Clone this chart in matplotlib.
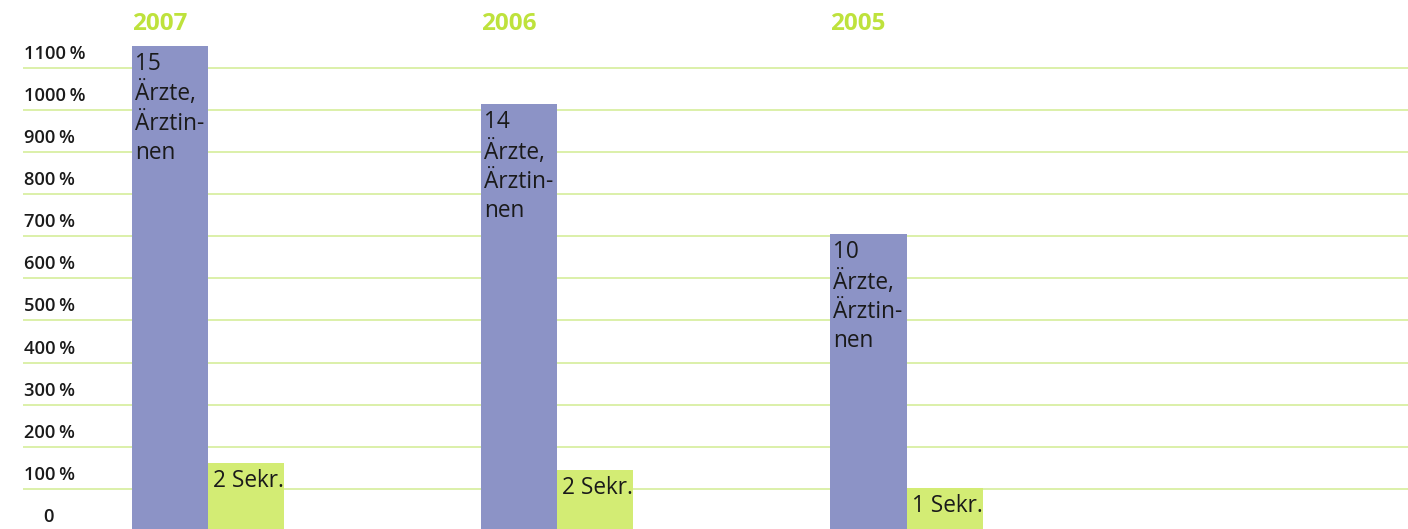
import matplotlib
matplotlib.use("Agg")
import matplotlib.pyplot as plt
import matplotlib.transforms as mtransforms
import numpy as np

years = ["2007", "2006", "2005"]
aerzte_values = [1152, 1014, 705]
sekr_values = [162, 145, 102]
aerzte_labels = ["15\nÄrzte,\nÄrztin-\nnen", "14\nÄrzte,\nÄrztin-\nnen", "10\nÄrzte,\nÄrztin-\nnen"]
sekr_labels = ["2 Sekr.", "2 Sekr.", "1 Sekr."]
tick_values = [0, 100, 200, 300, 400, 500, 600, 700, 800, 900, 1000, 1100]
tick_labels = ["0", "100 %", "200 %", "300 %", "400 %", "500 %", "600 %", "700 %",
               "800 %", "900 %", "1000 %", "1100 %"]

W, H = 1408, 529
DPI = 100
fig = plt.figure(figsize=(W / DPI, H / DPI), dpi=DPI)
fig.patch.set_facecolor("white")

ax_left = 23 / W
ax_bottom = -2 / H
ax = fig.add_axes([ax_left, ax_bottom, 1 - ax_left, 1 - ax_bottom])
ax.set_facecolor("white")

FONT = ["Open Sans", "DejaVu Sans"]
C_AERZTE = "#8c93c6"
C_SEKR = "#d3ec74"
C_YEAR = "#bee23c"
C_GRID = "#d9efa2"

bw = 0.218
x = np.arange(len(years))
ax.set_xlim(-0.53, 3.436)
ax.set_ylim(0, 1261)

# gridlines
for v in tick_values[1:]:
    ax.axhline(v, color=C_GRID, lw=1.3, zorder=0)

ax.bar(x - bw / 2, aerzte_values, width=bw, color=C_AERZTE, zorder=2, linewidth=0)
ax.bar(x + bw / 2, sekr_values, width=bw, color=C_SEKR, zorder=2, linewidth=0)

# bar labels
for i in range(len(years)):
    off = mtransforms.offset_copy(ax.transData, fig=fig, x=3, y=-6, units="dots")
    ax.text(x[i] - bw, aerzte_values[i], aerzte_labels[i], transform=off,
            ha="left", va="top", fontsize=16.3, family=FONT, color="#1a1a1a",
            linespacing=1.29, zorder=3)
    off2 = mtransforms.offset_copy(ax.transData, fig=fig, x=5, y=-6, units="dots")
    ax.text(x[i], sekr_values[i], sekr_labels[i], transform=off2,
            ha="left", va="top", fontsize=16.3, family=FONT, color="#1a1a1a",
            zorder=3)
    # year labels
    ax.text(x[i] - bw, 1203, years[i], ha="left", va="center", fontsize=17.5,
            fontweight="bold", family=FONT, color=C_YEAR, zorder=3)

# y tick labels (drawn slightly above their gridlines)
ax.set_yticks([])
ax.set_xticks([])
blend = mtransforms.blended_transform_factory(ax.transAxes, ax.transData)
for v, lab in zip(tick_values, tick_labels):
    dx = 20 if lab == "0" else 1
    tr = mtransforms.offset_copy(blend, fig=fig, x=dx, y=14, units="dots")
    ax.text(0, v, lab.replace(" ", "\u2009"), transform=tr, ha="left", va="center",
            fontsize=13.2, fontweight="semibold", family=FONT, color="#1a1a1a")

for s in ax.spines.values():
    s.set_visible(False)

fig.savefig("out.png", dpi=DPI, facecolor="white")
